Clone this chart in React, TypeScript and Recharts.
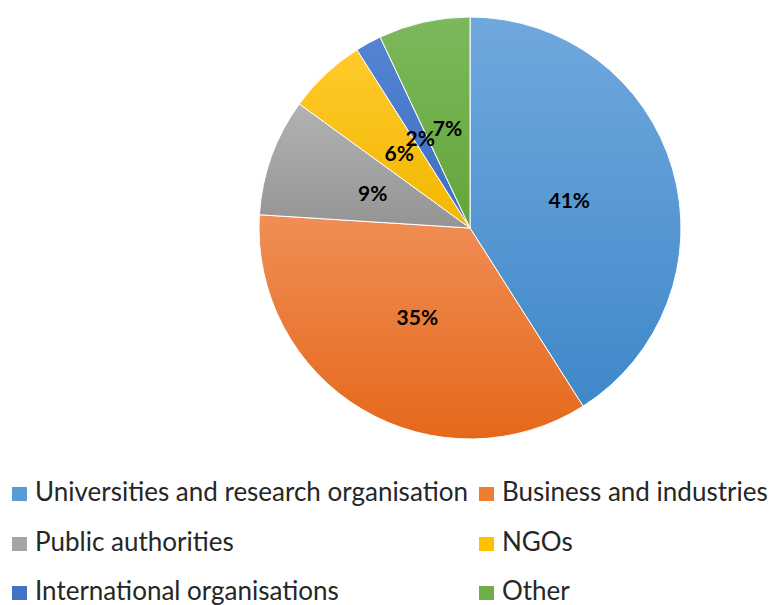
import React from "react";
import { Cell, Legend, Pie, PieChart } from "recharts";

const categories = [
  "Universities and research organisation",
  "Business and industries",
  "Public authorities",
  "NGOs",
  "International organisations",
  "Other",
];
const shares = [41, 35, 9, 6, 2, 7];
const topColors = ["#70a8de", "#f08e56", "#b2b2b2", "#ffca2c", "#5485d3", "#7db95c"];
const bottomColors = ["#3f88c9", "#e5681a", "#949494", "#f2b700", "#3d6cbe", "#62a53a"];
const swatch = ["#5b9bd5", "#ed7d31", "#a5a5a5", "#ffc000", "#4472c4", "#70ad47"];

const data = categories.map((name, i) => ({ name, value: shares[i] }));

const RADIAN = Math.PI / 180;

function renderLabel(props: any) {
  const { cx, cy, midAngle, outerRadius, value } = props;
  const r = outerRadius * 0.49;
  const x = cx + r * Math.cos(-midAngle * RADIAN);
  const y = cy + r * Math.sin(-midAngle * RADIAN);
  return (
    <text x={x} y={y} textAnchor="middle" dominantBaseline="central"
      fontFamily="Lato" fontWeight="bold" fontSize={21} fill="#000">
      {value}%
    </text>
  );
}

function LegendBox() {
  return (
    <div style={{ position: "relative", width: 771, height: 125, fontFamily: "Lato", fontSize: 26, color: "#262626" }}>
      {categories.map((c, i) => {
        const col = i % 2;
        const row = Math.floor(i / 2);
        const left = col === 0 ? 12 : 479;
        return (
          <React.Fragment key={c}>
            <span style={{
              position: "absolute", left, top: 7 + row * 49.5,
              width: 15, height: 14, background: swatch[i],
            }} />
            <span style={{
              position: "absolute", left: left + 23, top: -2 + row * 49.5,
              lineHeight: "26px", whiteSpace: "nowrap",
            }}>{c}</span>
          </React.Fragment>
        );
      })}
    </div>
  );
}

export default function App() {
  return (
    <div style={{ position: "absolute", left: 0, top: 0, width: 771, height: 605, background: "#fff" }}>
      <PieChart width={771} height={605} margin={{ top: 0, right: 0, bottom: 0, left: 0 }}>
        <defs>
          {topColors.map((t, i) => (
            <linearGradient key={i} id={`g${i}`} x1="0" y1="0" x2="0" y2="1">
              <stop offset="0%" stopColor={t} />
              <stop offset="100%" stopColor={bottomColors[i]} />
            </linearGradient>
          ))}
        </defs>
        <Pie data={data} dataKey="value" nameKey="name" cx={470} cy={228} outerRadius={211}
          startAngle={90} endAngle={-270} stroke="#ffffff" strokeWidth={1}
          label={renderLabel} labelLine={false} isAnimationActive={false}>
          {data.map((d, i) => (
            <Cell key={d.name} fill={`url(#g${i})`} />
          ))}
        </Pie>
        <Legend content={() => <LegendBox />} wrapperStyle={{ position: "absolute", left: 0, top: 480, width: 771 }} />
      </PieChart>
    </div>
  );
}
